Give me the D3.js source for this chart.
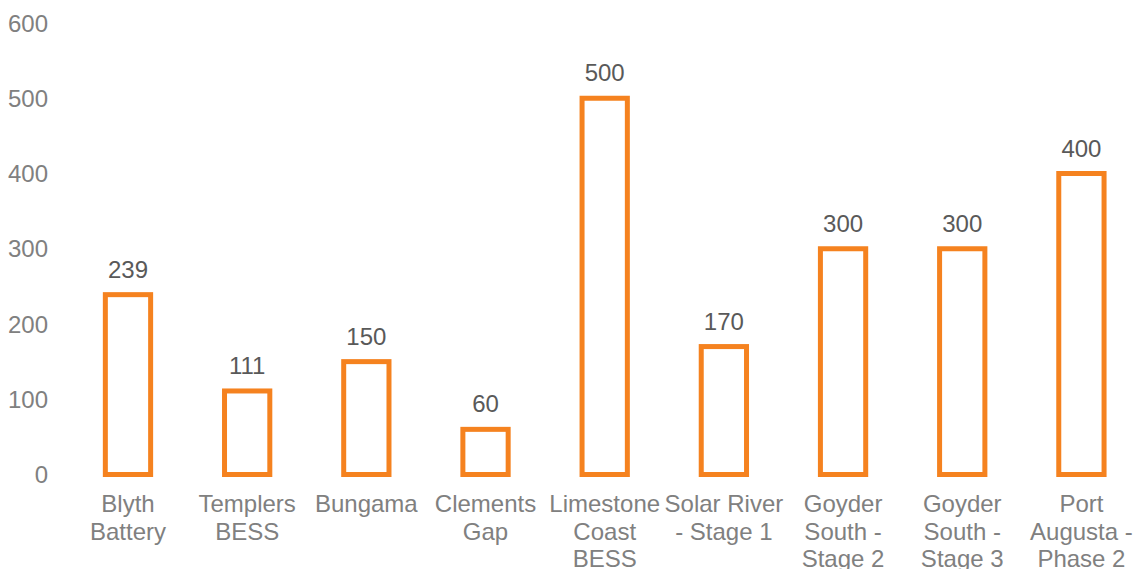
<!DOCTYPE html>
<html>
<head>
<meta charset="utf-8">
<script src="https://cdn.jsdelivr.net/npm/d3@7"></script>
<style>
  body { margin: 0; background: #fff; }
  text { font-family: "Liberation Sans", Arial, sans-serif; }
</style>
</head>
<body>
<div id="chart"></div>
<script>
// chart data
var projects = ["Blyth Battery", "Templers BESS", "Bungama", "Clements Gap", "Limestone Coast BESS",
                "Solar River - Stage 1", "Goyder South - Stage 2", "Goyder South - Stage 3", "Port Augusta - Phase 2"];
var labelLines = [["Blyth", "Battery"], ["Templers", "BESS"], ["Bungama"], ["Clements", "Gap"],
                  ["Limestone", "Coast", "BESS"], ["Solar River", "- Stage 1"], ["Goyder", "South -", "Stage 2"],
                  ["Goyder", "South -", "Stage 3"], ["Port", "Augusta -", "Phase 2"]];
var capacity = [239, 111, 150, 60, 500, 170, 300, 300, 400];
var yTicks = [0, 100, 200, 300, 400, 500, 600];

var width = 1136, height = 569;
var margin = {top: 23, right: -5, bottom: 94.5, left: 68.4};
var fontSize = "24px";

var svg = d3.select("#chart").append("svg")
    .attr("width", width)
    .attr("height", height);

var x = d3.scaleBand()
    .domain(projects)
    .range([margin.left, width - margin.right])
    .paddingInner(0.62)
    .paddingOuter(0.31);

var y = d3.scaleLinear()
    .domain([0, 600])
    .range([height - margin.bottom, margin.top]);

// y axis, no line, no ticks
var yAxis = d3.axisLeft(y).tickValues(yTicks).tickSize(0).tickPadding(0);
var yg = svg.append("g")
    .attr("transform", "translate(48,0)")
    .call(yAxis);
yg.select(".domain").remove();
yg.selectAll("text")
    .attr("fill", "#808080")
    .style("font-size", fontSize)
    .attr("dy", "0.34em");

// bars (outlined)
svg.selectAll("rect.bar")
    .data(capacity)
    .enter()
    .append("rect")
    .attr("class", "bar")
    .attr("x", function(d, i) { return x(projects[i]); })
    .attr("width", x.bandwidth())
    .attr("y", function(d) { return y(d); })
    .attr("height", function(d) { return y(0) - y(d); })
    .attr("fill", "#fff")
    .attr("stroke", "#F5821F")
    .attr("stroke-width", 5);

// value labels
svg.selectAll("text.val")
    .data(capacity)
    .enter()
    .append("text")
    .attr("class", "val")
    .attr("x", function(d, i) { return x(projects[i]) + x.bandwidth() / 2; })
    .attr("y", function(d) { return y(d) - 17; })
    .attr("text-anchor", "middle")
    .attr("fill", "#595959")
    .style("font-size", fontSize)
    .text(function(d) { return d; });

// category labels
var cats = svg.selectAll("text.cat")
    .data(projects)
    .enter()
    .append("text")
    .attr("class", "cat")
    .attr("text-anchor", "middle")
    .attr("fill", "#808080")
    .style("font-size", fontSize)
    .attr("transform", function(d) { return "translate(" + (x(d) + x.bandwidth() / 2) + ",512)"; });

cats.each(function(d, i) {
    d3.select(this).selectAll("tspan")
        .data(labelLines[i])
        .enter()
        .append("tspan")
        .attr("x", 0)
        .attr("y", function(l, j) { return j * 27.5; })
        .text(function(l) { return l; });
});
</script>
</body>
</html>
